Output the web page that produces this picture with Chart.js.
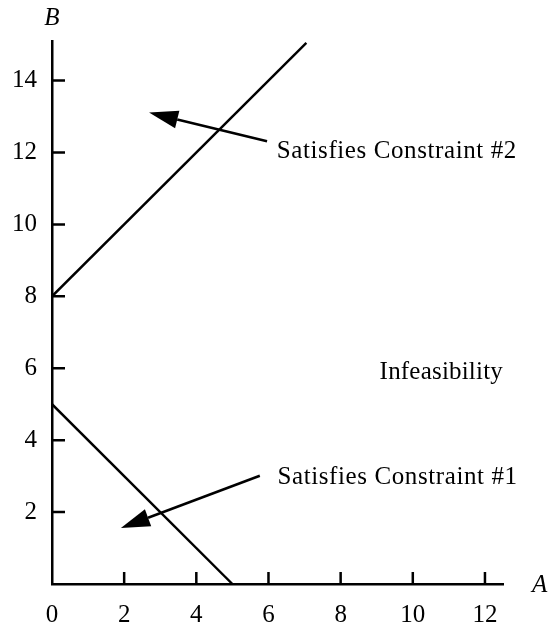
<!DOCTYPE html>
<html>
<head>
<meta charset="utf-8">
<script src="https://cdn.jsdelivr.net/npm/chart.js@4/dist/chart.umd.min.js"></script>
<style>
  html, body { margin: 0; padding: 0; background: #fff; }
  #wrap { width: 548px; height: 633px; }
</style>
</head>
<body>
<div id="wrap"><canvas id="c"></canvas></div>
<script>
// ── data ──────────────────────────────────────────────────────────────
const xTicks = [0, 2, 4, 6, 8, 10, 12];
const yTicks = [2, 4, 6, 8, 10, 12, 14];

// constraint #1: A + B = 5
const line1A = [0, 5];
const line1B = [5, 0];
// constraint #2: B - A = 8
const line2A = [0, 7.05];
const line2B = [8, 15.05];

// arrows: [tailA, tailB, tipA, tipB]
const arrow1 = [5.76, 3.01, 1.91, 1.56];
const arrow2 = [5.96, 12.31, 2.69, 13.11];

// notes: [text, A, B]
const notes = [
    ['Satisfies Constraint #2', 6.23, 11.86],
    ['Infeasibility',           9.08, 5.71],
    ['Satisfies Constraint #1', 6.25, 2.78]
];

const FONT = "'Liberation Serif', 'Times New Roman', Times, serif";

// ── extras: inward ticks, arrows, notes, axis titles ──────────────────
const extras = {
    id: 'extras',
    afterDraw(chart) {
        const { ctx, chartArea: ca, scales: { x, y } } = chart;
        ctx.save();
        ctx.strokeStyle = '#000';
        ctx.fillStyle = '#000';
        ctx.lineWidth = 2.5;

        // tick marks pointing into the plot
        ctx.beginPath();
        xTicks.filter(v => v !== 0).forEach(v => {
            const px = x.getPixelForValue(v);
            ctx.moveTo(px, ca.bottom);
            ctx.lineTo(px, ca.bottom - 12);
        });
        yTicks.forEach(v => {
            const py = y.getPixelForValue(v);
            ctx.moveTo(ca.left, py);
            ctx.lineTo(ca.left + 13, py);
        });
        ctx.stroke();

        // arrows
        [arrow1, arrow2].forEach(a => {
            const x0 = x.getPixelForValue(a[0]), y0 = y.getPixelForValue(a[1]);
            const x1 = x.getPixelForValue(a[2]), y1 = y.getPixelForValue(a[3]);
            const len = Math.hypot(x1 - x0, y1 - y0);
            const ux = (x1 - x0) / len, uy = (y1 - y0) / len;
            const hl = 29, hw = 9;
            const bx = x1 - ux * hl, by = y1 - uy * hl;
            ctx.beginPath();
            ctx.moveTo(x0, y0);
            ctx.lineTo(bx, by);
            ctx.stroke();
            ctx.beginPath();
            ctx.moveTo(x1, y1);
            ctx.lineTo(bx - uy * hw, by + ux * hw);
            ctx.lineTo(bx + uy * hw, by - ux * hw);
            ctx.closePath();
            ctx.fill();
        });

        // notes
        ctx.font = '25px ' + FONT;
        ctx.textAlign = 'left';
        ctx.textBaseline = 'alphabetic';
        notes.forEach(([t, a, b]) => {
            ctx.letterSpacing = t.length > 15 ? '0.6px' : '0.2px';
            ctx.fillText(t, x.getPixelForValue(a), y.getPixelForValue(b));
        });
        ctx.letterSpacing = '0px';

        // axis titles
        ctx.font = 'italic 25px ' + FONT;
        ctx.textAlign = 'center';
        ctx.fillText('B', ca.left, ca.top - 16);
        ctx.textAlign = 'left';
        ctx.fillText('A', ca.right + 29, ca.bottom + 8);
        ctx.restore();
    }
};

const lineStyle = { borderColor: '#000', borderWidth: 2.4, pointRadius: 0, showLine: true, fill: false, tension: 0 };

function draw() {
    new Chart(document.getElementById('c'), {
        type: 'scatter',
        data: {
            datasets: [
                { label: 'Constraint #1', data: line1A.map((a, i) => ({ x: a, y: line1B[i] })), ...lineStyle },
                { label: 'Constraint #2', data: line2A.map((a, i) => ({ x: a, y: line2B[i] })), ...lineStyle }
            ]
        },
        options: {
            responsive: true, maintainAspectRatio: false, animation: false,
            layout: { padding: { top: 41, right: 45, left: 0, bottom: 0 } },
            plugins: { legend: { display: false }, tooltip: { enabled: false } },
            scales: {
                x: {
                    type: 'linear', min: 0, max: 12.5,
                    afterBuildTicks: s => { s.ticks = xTicks.map(v => ({ value: v })); },
                    afterFit: s => { s.height = 49; },
                    grid: { drawOnChartArea: false, drawTicks: false },
                    border: { display: true, color: '#000', width: 2.5 },
                    ticks: { color: '#000', font: { family: FONT, size: 25 }, padding: 16, maxRotation: 0, autoSkip: false }
                },
                y: {
                    type: 'linear', min: 0, max: 15.1,
                    afterBuildTicks: s => { s.ticks = yTicks.map(v => ({ value: v })); },
                    afterFit: s => { s.width = 52; },
                    grid: { drawOnChartArea: false, drawTicks: false },
                    border: { display: true, color: '#000', width: 2.5 },
                    ticks: { color: '#000', font: { family: FONT, size: 25 }, padding: 15, autoSkip: false }
                }
            }
        },
        plugins: [extras]
    });
}

Promise.all([
    document.fonts.load("25px 'Liberation Serif'"),
    document.fonts.load("italic 25px 'Liberation Serif'")
]).then(draw, draw);
</script>
</body>
</html>
